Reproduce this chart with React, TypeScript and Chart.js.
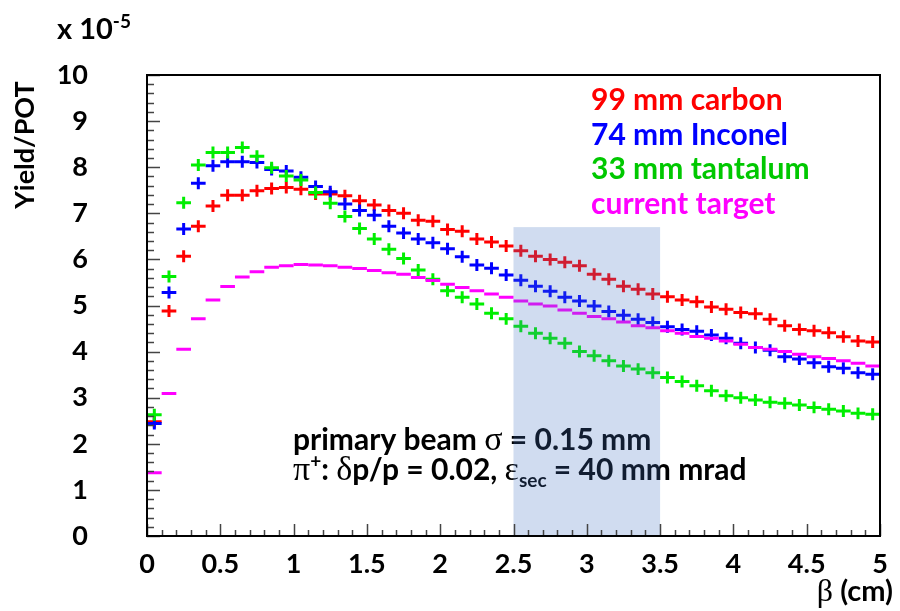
import React, { useEffect, useRef } from "react";
import { Chart, registerables } from "chart.js";

Chart.register(...registerables);

// bin centres in beta (cm)
const binCenters = [
  0.05, 0.15, 0.25, 0.35, 0.45, 0.55, 0.65, 0.75, 0.85, 0.95,
  1.05, 1.15, 1.25, 1.35, 1.45, 1.55, 1.65, 1.75, 1.85, 1.95,
  2.05, 2.15, 2.25, 2.35, 2.45, 2.55, 2.65, 2.75, 2.85, 2.95,
  3.05, 3.15, 3.25, 3.35, 3.45, 3.55, 3.65, 3.75, 3.85, 3.95,
  4.05, 4.15, 4.25, 4.35, 4.45, 4.55, 4.65, 4.75, 4.85, 4.95,
];

// Yield/POT (x 1e-5)
const carbon99 = [
  2.48, 4.88, 6.07, 6.72, 7.16, 7.39, 7.39, 7.49, 7.54, 7.56,
  7.52, 7.42, 7.42, 7.38, 7.27, 7.18, 7.06, 7.0, 6.85, 6.83,
  6.65, 6.61, 6.44, 6.38, 6.29, 6.19, 6.07, 6.0, 5.94, 5.86,
  5.68, 5.57, 5.42, 5.35, 5.25, 5.19, 5.12, 5.08, 4.97, 4.92,
  4.85, 4.82, 4.7, 4.56, 4.48, 4.45, 4.41, 4.32, 4.23, 4.21,
];
const inconel74 = [
  2.44, 5.28, 6.66, 7.65, 8.03, 8.12, 8.12, 8.1, 7.95, 7.92,
  7.78, 7.58, 7.47, 7.2, 7.06, 6.96, 6.72, 6.57, 6.44, 6.36,
  6.23, 6.06, 5.88, 5.81, 5.66, 5.55, 5.42, 5.31, 5.18, 5.1,
  4.99, 4.87, 4.79, 4.7, 4.63, 4.54, 4.48, 4.44, 4.36, 4.29,
  4.18, 4.09, 4.03, 3.89, 3.84, 3.76, 3.67, 3.64, 3.54, 3.51,
];
const tantalum33 = [
  2.63, 5.63, 7.23, 8.05, 8.32, 8.32, 8.43, 8.24, 7.99, 7.81,
  7.72, 7.45, 7.22, 6.93, 6.67, 6.44, 6.22, 6.02, 5.77, 5.57,
  5.32, 5.18, 5.03, 4.83, 4.71, 4.55, 4.4, 4.29, 4.18, 4.0,
  3.91, 3.8, 3.69, 3.62, 3.54, 3.44, 3.35, 3.26, 3.15, 3.04,
  3.0, 2.95, 2.9, 2.88, 2.84, 2.79, 2.75, 2.71, 2.66, 2.64,
];
const currentTarget = [
  1.37, 3.09, 4.05, 4.71, 5.12, 5.41, 5.62, 5.73, 5.83, 5.86,
  5.89, 5.88, 5.86, 5.83, 5.8, 5.76, 5.71, 5.68, 5.61, 5.54,
  5.46, 5.39, 5.32, 5.25, 5.18, 5.1, 5.03, 4.99, 4.9, 4.83,
  4.76, 4.71, 4.64, 4.56, 4.52, 4.45, 4.4, 4.33, 4.29, 4.23,
  4.16, 4.09, 4.05, 4.0, 3.94, 3.89, 3.85, 3.8, 3.75, 3.69,
];

const xTickLabels = ["0", "0.5", "1", "1.5", "2", "2.5", "3", "3.5", "4", "4.5", "5"];
const seriesLabels = ["99 mm carbon", "74 mm Inconel", "33 mm tantalum", "current target"];
const markerColors = ["#ff0000", "#0000ff", "#00ee00", "#ff00ff"];
const labelColors = ["#ff0000", "#0000ff", "#00c800", "#ff00ff"];
const verticalErr = [0.13, 0.13, 0.13, 0.02];
const HALF_BIN = 0.05;

const shadeRange = { x0: 2.5, x1: 3.5, y0: 0, y1: 6.7 };

const BOLD = (px: number) => `bold ${px}px Lato, "Open Sans", sans-serif`;
const SERIF = (px: number) => `${px}px "Liberation Serif", "DejaVu Serif", serif`;

type Seg = { t: string; f: string; dy?: number };
function drawRich(ctx: CanvasRenderingContext2D, segs: Seg[], x: number, y: number, align: "left" | "right" = "left") {
  let w = 0;
  segs.forEach((s) => {
    ctx.font = s.f;
    w += ctx.measureText(s.t).width;
  });
  let cx = align === "right" ? x - w : x;
  segs.forEach((s) => {
    ctx.font = s.f;
    ctx.fillText(s.t, cx, y + (s.dy || 0));
    cx += ctx.measureText(s.t).width;
  });
}

const overlayPlugin = {
  id: "rootStyle",
  afterDatasetsDraw(chart: any) {
    const { ctx, scales } = chart;
    const xs = scales.x;
    const ys = scales.y;
    // data crosses
    chart.data.datasets.forEach((ds: any, di: number) => {
      ctx.save();
      ctx.strokeStyle = ds.borderColor;
      ctx.lineWidth = 3;
      ctx.lineCap = "butt";
      ds.data.forEach((p: any) => {
        const xa = xs.getPixelForValue(p.x - HALF_BIN);
        const xb = xs.getPixelForValue(p.x + HALF_BIN);
        const xc = xs.getPixelForValue(p.x);
        const yc = ys.getPixelForValue(p.y);
        ctx.beginPath();
        ctx.moveTo(xa, yc);
        ctx.lineTo(xb, yc);
        const e = verticalErr[di];
        ctx.moveTo(xc, ys.getPixelForValue(p.y - e));
        ctx.lineTo(xc, ys.getPixelForValue(p.y + e));
        ctx.stroke();
      });
      ctx.restore();
    });

    // legend text
    ctx.save();
    ctx.textBaseline = "alphabetic";
    ctx.textAlign = "left";
    const baselines = [110, 145, 179, 214];
    seriesLabels.forEach((lab, i) => {
      ctx.fillStyle = labelColors[i];
      ctx.font = BOLD(30);
      ctx.fillText(lab, 591, baselines[i]);
    });

    // annotation
    ctx.fillStyle = "#000";
    drawRich(ctx, [
      { t: "primary beam ", f: BOLD(30) },
      { t: "σ", f: SERIF(34) },
      { t: " = 0.15 mm", f: BOLD(30) },
    ], 293, 450);
    drawRich(ctx, [
      { t: "π", f: SERIF(34) },
      { t: "+", f: BOLD(19), dy: -12 },
      { t: ": ", f: BOLD(30) },
      { t: "δ", f: SERIF(34) },
      { t: "p/p = 0.02, ", f: BOLD(30) },
      { t: "ε", f: SERIF(34) },
      { t: "sec", f: BOLD(19), dy: 7 },
      { t: " = 40 mm mrad", f: BOLD(30) },
    ], 293, 480);
    ctx.restore();

    // shaded overlay
    ctx.save();
    ctx.fillStyle = "rgba(68,114,196,0.25)";
    const rx0 = xs.getPixelForValue(shadeRange.x0);
    const rx1 = xs.getPixelForValue(shadeRange.x1);
    const ry0 = ys.getPixelForValue(shadeRange.y0);
    const ry1 = ys.getPixelForValue(shadeRange.y1);
    ctx.fillRect(rx0, ry1, rx1 - rx0, ry0 - ry1);
    ctx.restore();
  },
  afterDraw(chart: any) {
    const { ctx, chartArea: a, scales } = chart;
    const xs = scales.x;
    const ys = scales.y;
    ctx.save();
    // ticks (inward, ROOT style)
    ctx.strokeStyle = "#444";
    ctx.lineWidth = 1.5;
    ctx.beginPath();
    for (let k = 0; k <= 50; k++) {
      const v = k / 10;
      const px = Math.round(xs.getPixelForValue(v)) + 0.5;
      const len = k % 5 === 0 ? 12 : 6;
      ctx.moveTo(px, a.bottom);
      ctx.lineTo(px, a.bottom - len);
    }
    for (let k = 0; k <= 50; k++) {
      const v = k / 5;
      const py = Math.round(ys.getPixelForValue(v)) + 0.5;
      const len = k % 5 === 0 ? 13 : 7;
      ctx.moveTo(a.left, py);
      ctx.lineTo(a.left + len, py);
    }
    ctx.stroke();
    // frame
    ctx.strokeStyle = "#000";
    ctx.lineWidth = 2;
    ctx.strokeRect(a.left, a.top, a.right - a.left, a.bottom - a.top);

    // titles
    ctx.fillStyle = "#000";
    ctx.textBaseline = "alphabetic";
    drawRich(ctx, [
      { t: "x 10", f: BOLD(29) },
      { t: "-5", f: BOLD(19), dy: -11 },
    ], 57, 39);
    drawRich(ctx, [
      { t: "β", f: SERIF(32) },
      { t: " (cm)", f: BOLD(29) },
    ], 893, 601, "right");
    ctx.translate(34, 145);
    ctx.rotate(-Math.PI / 2);
    ctx.textAlign = "center";
    ctx.font = BOLD(27);
    ctx.fillText("Yield/POT", 0, 0);
    ctx.restore();
  },
};

export default function App() {
  const ref = useRef<HTMLCanvasElement | null>(null);
  useEffect(() => {
    if (!ref.current) return;
    const series = [carbon99, inconel74, tantalum33, currentTarget];
    const chart = new Chart(ref.current, {
      type: "scatter",
      data: {
        datasets: series.map((vals, i) => ({
          label: seriesLabels[i],
          data: binCenters.map((x, j) => ({ x, y: vals[j] })),
          borderColor: markerColors[i],
          backgroundColor: markerColors[i],
          pointRadius: 0,
          pointHoverRadius: 0,
          showLine: false,
        })),
      },
      options: {
        responsive: false,
        animation: false,
        layout: { padding: { top: 75, right: 20, left: 0, bottom: 0 } },
        plugins: { legend: { display: false }, tooltip: { enabled: false } },
        scales: {
          x: {
            type: "linear",
            min: 0,
            max: 5,
            grid: { display: false, drawTicks: false },
            border: { display: false },
            ticks: {
              stepSize: 0.5,
              padding: 12,
              color: "#000",
              font: { family: "Lato", weight: "bold", size: 27 },
              maxRotation: 0,
              autoSkip: false,
              callback: (_v: any, i: number) => xTickLabels[i],
            },
            afterFit: (s: any) => {
              s.height = 75;
              s.paddingLeft = 0;
              s.paddingRight = 0;
            },
          },
          y: {
            type: "linear",
            min: 0,
            max: 10,
            grid: { display: false, drawTicks: false },
            border: { display: false },
            ticks: {
              stepSize: 1,
              padding: 59,
              color: "#000",
              font: { family: "Lato", weight: "bold", size: 27 },
              autoSkip: false,
            },
            afterFit: (s: any) => {
              s.width = 147;
              s.paddingTop = 0;
              s.paddingBottom = 0;
            },
          },
        },
      },
      plugins: [overlayPlugin],
    } as any);
    return () => chart.destroy();
  }, []);
  return (
    <div style={{ position: "absolute", left: 0, top: 0, width: 900, height: 611, background: "#fff" }}>
      <canvas ref={ref} width={900} height={611} />
    </div>
  );
}
